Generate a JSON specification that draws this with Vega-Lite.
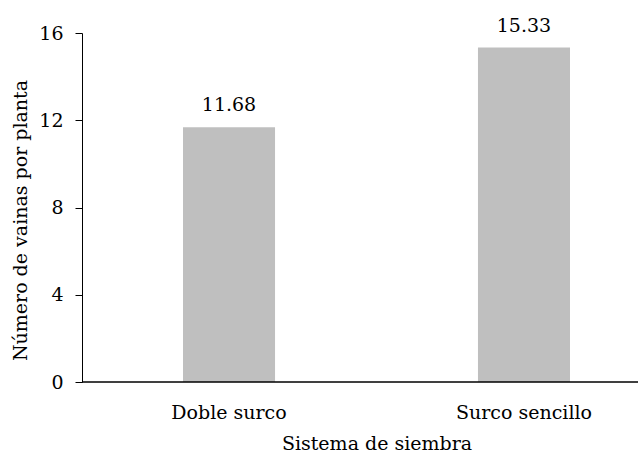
{
  "$schema": "https://vega.github.io/schema/vega-lite/v6.json",
  "width": 556,
  "height": 349,
  "autosize": {"type": "none"},
  "padding": {"left": 82, "top": 33, "right": 0, "bottom": 70},
  "config": {
    "view": {"stroke": null},
    "font": "DejaVu Serif",
    "axis": {
      "labelFont": "DejaVu Serif",
      "titleFont": "DejaVu Serif",
      "labelFontSize": 19,
      "titleFontSize": 19,
      "titleFontWeight": "normal",
      "labelColor": "black",
      "titleColor": "black",
      "domainColor": "black",
      "tickColor": "black",
      "grid": false
    }
  },
  "data": {
    "values": [
      {"sistema": "Doble surco", "vainas": 11.68},
      {"sistema": "Surco sencillo", "vainas": 15.33}
    ]
  },
  "layer": [
    {
      "mark": {"type": "bar", "color": "#bfbfbf"},
      "encoding": {
        "x": {
          "field": "sistema",
          "type": "nominal",
          "sort": null,
          "scale": {"range": [42, 547], "paddingInner": 0.688, "paddingOuter": 0.2},
          "axis": {
            "title": "Sistema de siembra",
            "labelAngle": 0,
            "domain": false,
            "ticks": false,
            "tickSize": 0,
            "labelPadding": 21,
            "titlePadding": 12
          }
        },
        "y": {
          "field": "vainas",
          "type": "quantitative",
          "scale": {"domain": [0, 16], "nice": false},
          "axis": {
            "title": "Número de vainas por planta",
            "values": [0, 4, 8, 12, 16],
            "tickSize": 7,
            "labelPadding": 12,
            "titlePadding": 8,
            "titleY": 187
          }
        }
      }
    },
    {
      "mark": {"type": "text", "dy": -22, "fontSize": 19, "baseline": "middle", "font": "DejaVu Serif", "color": "black"},
      "encoding": {
        "x": {"field": "sistema", "type": "nominal", "sort": null},
        "y": {"field": "vainas", "type": "quantitative"},
        "text": {"field": "vainas", "type": "quantitative", "format": ".2f"}
      }
    },
    {
      "mark": {"type": "rule", "color": "black", "strokeWidth": 1},
      "encoding": {"y": {"datum": 0}}
    }
  ]
}
